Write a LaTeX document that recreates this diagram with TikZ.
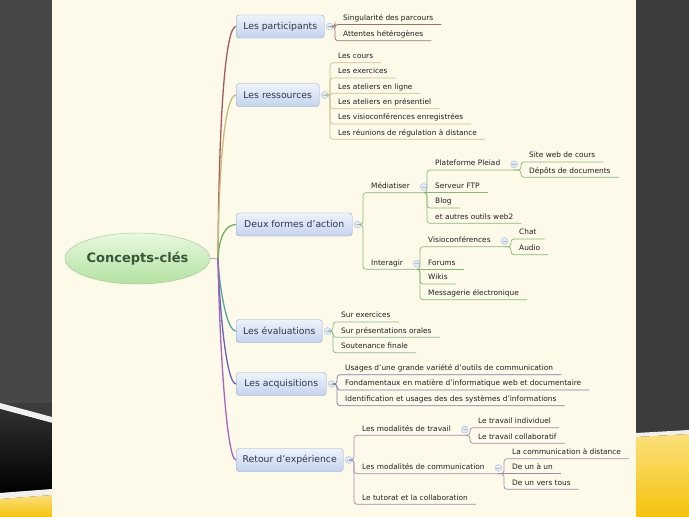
\documentclass[tikz,border=0pt]{standalone}
\usepackage{fontspec}
\setmainfont{DejaVu Sans}
\usepackage{tikz}
\usetikzlibrary{shapes.geometric,positioning}

\definecolor{bgdark}{HTML}{3C3C3C}
\definecolor{bgleft}{HTML}{474747}
\definecolor{stripe}{HTML}{F0F0F0}
\definecolor{yellowtop}{HTML}{FBE07A}
\definecolor{yellowbot}{HTML}{F5C20C}
\definecolor{panel}{HTML}{FDFAEA}
\definecolor{topicline}{HTML}{8FA7CB}
\definecolor{topictop}{HTML}{EEF3FB}
\definecolor{topicbot}{HTML}{C3D3EE}
\definecolor{topictext}{HTML}{2E384A}
\definecolor{rootline}{HTML}{9DC58F}
\definecolor{roottop}{HTML}{E8F8E0}
\definecolor{rootbot}{HTML}{B3E2A0}
\definecolor{roottext}{HTML}{3A553A}
\definecolor{bubline}{HTML}{A9BDDB}
\definecolor{bubfill}{HTML}{E2EAF6}
\definecolor{leaftext}{HTML}{1F1F1F}
\definecolor{parc}{HTML}{A65A5E}
\definecolor{parl}{HTML}{9C7070}
\definecolor{resc}{HTML}{C9B97A}
\definecolor{resl}{HTML}{CBBF8A}
\definecolor{dfac}{HTML}{6DB35A}
\definecolor{dfal}{HTML}{86B878}
\definecolor{evac}{HTML}{52A8A2}
\definecolor{evall}{HTML}{86B890}
\definecolor{acqc}{HTML}{6464B4}
\definecolor{acql}{HTML}{7C7CA8}
\definecolor{retc}{HTML}{A864BC}
\definecolor{retl}{HTML}{A888B0}

\begin{document}
\begin{tikzpicture}[x=1pt,y=-1pt,
        root/.style={ellipse,draw=rootline,top color=roottop,bottom color=rootbot,minimum width=145pt,minimum height=51pt,inner sep=0pt,text=roottext,font=\fontsize{13}{15}\selectfont\bfseries},
        topic/.style={draw=topicline,rounded corners=3pt,top color=topictop,bottom color=topicbot,minimum height=23pt,inner xsep=4pt,anchor=west,text=topictext,font=\fontsize{9.3}{11}\selectfont},
        leaf/.style={anchor=south west,inner xsep=8pt,inner ysep=1pt,text height=6pt,text depth=3pt,text=leaftext,font=\fontsize{7.4}{9}\selectfont},
        bub/.style={circle,draw=bubline,fill=bubfill,minimum size=7pt,inner sep=0pt,
            path picture={\draw[bubline,line width=0.6pt] ([xshift=-2pt]path picture bounding box.center) -- ([xshift=2pt]path picture bounding box.center);}},
        trunk/.style={line width=1.3pt},
        lk/.style={line width=0.7pt,rounded corners=3pt}]
    \useasboundingbox (0,0) rectangle (689,517);

    % Background
    \fill[bgdark] (0,0) rectangle (689,517);
    \fill[bgleft] (0,0) rectangle (52,403);
    \fill[stripe] (0,403) -- (52,417) -- (52,423) -- (0,409) -- cycle;
    \shade[top color=bgdark!80!black,bottom color=black] (0,409) -- (52,423) -- (52,489) -- (0,493) -- cycle;
    \fill[stripe] (0,493) -- (52,489) -- (52,495) -- (0,499) -- cycle;
    \shade[top color=yellowtop,bottom color=yellowbot] (0,499) -- (52,495) -- (52,517) -- (0,517) -- cycle;
    \fill[stripe] (636,433) -- (689,430) -- (689,434) -- (636,437) -- cycle;
    \shade[top color=yellowtop,bottom color=yellowbot] (636,437) -- (689,434) -- (689,517) -- (636,517) -- cycle;
    \fill[panel] (52,0) rectangle (636,517);

    % Level 0
    \node[root] (root) at (137.5,258.5) {Concepts-clés};
    \coordinate (hub) at (218,258.5);
    \draw[gray!60,line width=1pt] (root) -- (hub);

    % Level 1
    \node[topic,minimum width=88pt] (par) at (236,26.5) {Les participants};
    \node[topic,minimum width=83pt] (res) at (236,95) {Les ressources};
    \node[topic,minimum width=116pt] (dfa) at (236,224.5) {Deux formes d'action};
    \node[topic,minimum width=86pt] (eva) at (236,331) {Les évaluations};
    \node[topic,minimum width=90pt] (acq) at (236,384) {Les acquisitions};
    \node[topic,minimum width=107pt] (ret) at (236,460) {Retour d'expérience};

    \node[bub,right=1.5pt of par] (par-b) {};
    \node[bub,right=1.5pt of res] (res-b) {};
    \node[bub,right=1.5pt of dfa] (dfa-b) {};
    \node[bub,right=1.5pt of eva] (eva-b) {};
    \node[bub,right=1.5pt of acq] (acq-b) {};
    \node[bub,right=1.5pt of ret] (ret-b) {};

    % Trunk
    \draw[trunk,parc] (hub) .. controls (219,107) and (226,26.5) .. (par.west);
    \draw[trunk,resc] (hub) .. controls (219,152) and (226,95) .. (res.west);
    \draw[trunk,dfac] (hub) .. controls (219,236) and (226,224.5) .. (dfa.west);
    \draw[trunk,evac] (hub) .. controls (219,283) and (226,331) .. (eva.west);
    \draw[trunk,acqc] (hub) .. controls (219,302) and (226,384) .. (acq.west);
    \draw[trunk,retc] (hub) .. controls (219,329) and (226,460) .. (ret.west);

    % Les participants
    \node[leaf] (par1) at (335,24.5) {Singularité des parcours};
    \node[leaf] (par2) at (335,40.7) {Attentes hétérogènes};
    \draw[lk,parl] (par-b) -| (par1.south west) -- (par1.south east);
    \draw[lk,parl] (par-b) -| (par2.south west) -- (par2.south east);

    % Les ressources
    \node[leaf] (res1) at (330,62.7) {Les cours};
    \node[leaf] (res2) at (330,78) {Les exercices};
    \node[leaf] (res3) at (330,93.3) {Les ateliers en ligne};
    \node[leaf] (res4) at (330,108.7) {Les ateliers en présentiel};
    \node[leaf] (res5) at (330,124) {Les visioconférences enregistrées};
    \node[leaf] (res6) at (330,139.3) {Les réunions de régulation à distance};
    \draw[lk,resl] (res-b) -| (res1.south west) -- (res1.south east);
    \draw[lk,resl] (res-b) -| (res2.south west) -- (res2.south east);
    \draw[lk,resl] (res-b) -| (res3.south west) -- (res3.south east);
    \draw[lk,resl] (res-b) -| (res4.south west) -- (res4.south east);
    \draw[lk,resl] (res-b) -| (res5.south west) -- (res5.south east);
    \draw[lk,resl] (res-b) -| (res6.south west) -- (res6.south east);

    % Deux formes d'action
    \node[leaf] (med) at (363,192.7) {Médiatiser};
    \node[bub,right=2pt of med] (med-b) {};
    \coordinate (med-j) at (med-b |- med.south);
    \node[leaf] (int) at (363,269.3) {Interagir};
    \node[bub,right=2pt of int] (int-b) {};
    \coordinate (int-j) at (int-b |- int.south);
    \draw[lk,dfal] (dfa-b) -| (med.south west) -- (med-j);
    \draw[lk,dfal] (dfa-b) -| (int.south west) -- (int-j);

    \node[leaf] (pp) at (427,170) {Plateforme Pleiad};
    \node[bub,right=2pt of pp] (pp-b) {};
    \coordinate (pp-j) at (pp-b |- pp.south);
    \node[leaf] (ftp) at (427,192.7) {Serveur FTP};
    \node[leaf] (blog) at (427,208) {Blog};
    \node[leaf] (web2) at (427,223.3) {et autres outils web2};
    \draw[lk,dfal] (med-j) -| (pp.south west) -- (pp-j);
    \draw[lk,dfal] (med-j) -- (ftp.south east);
    \draw[lk,dfal] (med-j) -| (blog.south west) -- (blog.south east);
    \draw[lk,dfal] (med-j) -| (web2.south west) -- (web2.south east);

    \node[leaf] (site) at (521,162) {Site web de cours};
    \node[leaf] (depot) at (521,177.3) {Dépôts de documents};
    \draw[lk,dfal] (pp-j) -| (site.south west) -- (site.south east);
    \draw[lk,dfal] (pp-j) -| (depot.south west) -- (depot.south east);

    \node[leaf] (visio) at (420,246.7) {Visioconférences};
    \node[bub,right=2pt of visio] (visio-b) {};
    \coordinate (visio-j) at (visio-b |- visio.south);
    \node[leaf] (forum) at (420,269.3) {Forums};
    \node[leaf] (wiki) at (420,284) {Wikis};
    \node[leaf] (mail) at (420,299.7) {Messagerie électronique};
    \draw[lk,dfal] (int-j) -| (visio.south west) -- (visio-j);
    \draw[lk,dfal] (int-j) -- (forum.south east);
    \draw[lk,dfal] (int-j) -| (wiki.south west) -- (wiki.south east);
    \draw[lk,dfal] (int-j) -| (mail.south west) -- (mail.south east);

    \node[leaf] (chat) at (511,239) {Chat};
    \node[leaf] (audio) at (511,254.7) {Audio};
    \draw[lk,dfal] (visio-j) -| (chat.south west) -- (chat.south east);
    \draw[lk,dfal] (visio-j) -| (audio.south west) -- (audio.south east);

    % Les evaluations
    \node[leaf] (eva1) at (333,322) {Sur exercices};
    \node[leaf] (eva2) at (333,337.3) {Sur présentations orales};
    \node[leaf] (eva3) at (333,352.7) {Soutenance finale};
    \draw[lk,evall] (eva-b) -| (eva1.south west) -- (eva1.south east);
    \draw[lk,evall] (eva-b) -| (eva2.south west) -- (eva2.south east);
    \draw[lk,evall] (eva-b) -| (eva3.south west) -- (eva3.south east);

    % Les acquisitions
    \node[leaf] (acq1) at (337,374.7) {Usages d'une grande variété d'outils de communication};
    \node[leaf] (acq2) at (337,390) {Fondamentaux en matière d'informatique web et documentaire};
    \node[leaf] (acq3) at (337,405.7) {Identification et usages des des systèmes d'informations};
    \draw[lk,acql] (acq-b) -| (acq1.south west) -- (acq1.south east);
    \draw[lk,acql] (acq-b) -| (acq2.south west) -- (acq2.south east);
    \draw[lk,acql] (acq-b) -| (acq3.south west) -- (acq3.south east);

    % Retour d'experience
    \node[leaf] (trav) at (354,435.3) {Les modalités de travail};
    \node[bub,right=2pt of trav] (trav-b) {};
    \coordinate (trav-j) at (trav-b |- trav.south);
    \node[leaf] (comm) at (354,473.7) {Les modalités de communication};
    \node[bub,right=2pt of comm] (comm-b) {};
    \coordinate (comm-j) at (comm-b |- comm.south);
    \node[leaf] (tut) at (354,504.3) {Le tutorat et la collaboration};
    \draw[lk,retl] (ret-b) -| (trav.south west) -- (trav-j);
    \draw[lk,retl] (ret-b) -| (comm.south west) -- (comm-j);
    \draw[lk,retl] (ret-b) -| (tut.south west) -- (tut.south east);

    \node[leaf] (indiv) at (470,427.7) {Le travail individuel};
    \node[leaf] (collab) at (470,443.3) {Le travail collaboratif};
    \draw[lk,retl] (trav-j) -| (indiv.south west) -- (indiv.south east);
    \draw[lk,retl] (trav-j) -| (collab.south west) -- (collab.south east);

    \node[leaf] (dist) at (504,458.7) {La communication à distance};
    \node[leaf] (unun) at (504,473.7) {De un à un};
    \node[leaf] (tous) at (504,489.3) {De un vers tous};
    \draw[lk,retl] (comm-j) -| (dist.south west) -- (dist.south east);
    \draw[lk,retl] (comm-j) -- (unun.south east);
    \draw[lk,retl] (comm-j) -| (tous.south west) -- (tous.south east);
\end{tikzpicture}
\end{document}
